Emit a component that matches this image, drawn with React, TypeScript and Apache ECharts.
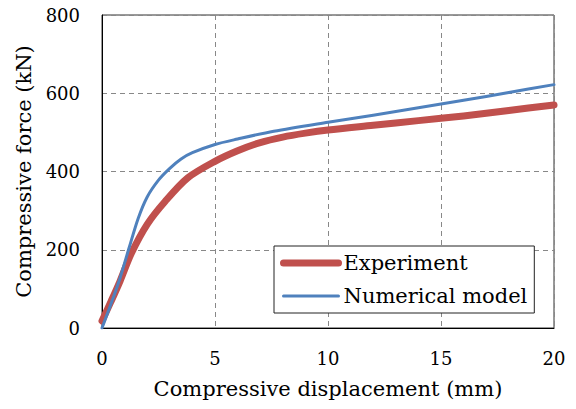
import React, { useEffect, useRef } from "react";
import * as echarts from "echarts";

const xTicks = [0, 5, 10, 15, 20];
const yTicks = [0, 200, 400, 600, 800];

const experimentX = [0, 0.4, 0.8, 1.3, 2, 2.8, 3.8, 5, 6, 7, 8, 9, 10, 12, 14, 16, 18, 20];
const experimentY = [18, 68, 120, 191, 265, 324, 384, 426, 453, 474, 488, 498, 506, 518, 530, 542, 556, 570];

const modelX = [0, 0.4, 0.8, 1.2, 1.6, 2, 2.5, 3, 3.5, 4, 5, 6, 7.6, 10, 12, 14, 16, 18, 20];
const modelY = [0, 62, 128, 205, 280, 335, 378, 408, 432, 448, 469, 483, 503, 526, 544, 563, 582, 602, 622];

const seriesNames = ["Experiment", "Numerical model"];
const xTitle = "Compressive displacement (mm)";
const yTitle = "Compressive force (kN)";

const FONT = "DejaVu Serif";

export default function App() {
  const ref = useRef<HTMLDivElement>(null);
  useEffect(() => {
    if (!ref.current) return;
    const chart = echarts.init(ref.current, null, { renderer: "svg" });
    const pair = (xs: number[], ys: number[]) => xs.map((x, i) => [x, ys[i]]);
    chart.setOption({
      animation: false,
      backgroundColor: "#ffffff",
      grid: {
        left: 102,
        right: 22,
        top: 15,
        bottom: 81,
        show: true,
        borderColor: "#333",
        borderWidth: 1,
        outerBoundsMode: "none",
        containLabel: false,
      },
      legend: {
        orient: "vertical",
        left: 274,
        top: 246,
        padding: [5, 7, 5, 6],
        itemWidth: 55,
        itemHeight: 14,
        itemGap: 9,
        borderColor: "#222",
        borderWidth: 1,
        backgroundColor: "#fff",
        itemStyle: { opacity: 0 },
        textStyle: { fontFamily: FONT, fontSize: 21, color: "#000", lineHeight: 24 },
        data: [
          { name: seriesNames[0], lineStyle: { width: 7, cap: "round", color: "#C0504D" } },
          { name: seriesNames[1], lineStyle: { width: 3, cap: "round", color: "#4F81BD" } },
        ],
      },
      xAxis: {
        type: "value",
        min: 0,
        max: 20,
        interval: 5,
        name: xTitle,
        nameLocation: "middle",
        nameGap: 50,
        nameTextStyle: { fontFamily: FONT, fontSize: 21, color: "#000" },
        axisLine: { show: true, lineStyle: { color: "#000", width: 1 } },
        axisTick: { show: false },
        axisLabel: {
          fontFamily: FONT,
          fontSize: 18,
          color: "#000",
          margin: 21,
          formatter: (v: number) => (xTicks.includes(v) ? String(v) : ""),
        },
        splitLine: { show: true, lineStyle: { color: "#888", type: [5, 4], width: 1 } },
      },
      yAxis: {
        type: "value",
        min: 0,
        max: 800,
        interval: 200,
        name: yTitle,
        nameLocation: "middle",
        nameGap: 67,
        nameTextStyle: { fontFamily: FONT, fontSize: 21, color: "#000" },
        axisLine: { show: true, lineStyle: { color: "#000", width: 1 } },
        axisTick: { show: false },
        axisLabel: {
          fontFamily: FONT,
          fontSize: 18,
          color: "#000",
          margin: 22,
          formatter: (v: number) => (yTicks.includes(v) ? String(v) : ""),
        },
        splitLine: { show: true, lineStyle: { color: "#888", type: [5, 4], width: 1 } },
      },
      series: [
        {
          name: seriesNames[0],
          type: "line",
          data: pair(experimentX, experimentY),
          symbol: "none",
          smooth: 0.3,
          lineStyle: { color: "#C0504D", width: 7, cap: "round", join: "round" },
          itemStyle: { color: "#C0504D" },
        },
        {
          name: seriesNames[1],
          type: "line",
          data: pair(modelX, modelY),
          symbol: "none",
          smooth: 0.3,
          lineStyle: { color: "#4F81BD", width: 3, cap: "round", join: "round" },
          itemStyle: { color: "#4F81BD" },
        },
      ],
    });
    return () => chart.dispose();
  }, []);
  return <div ref={ref} style={{ width: 576, height: 409, position: "absolute", left: 0, top: 0 }} />;
}
